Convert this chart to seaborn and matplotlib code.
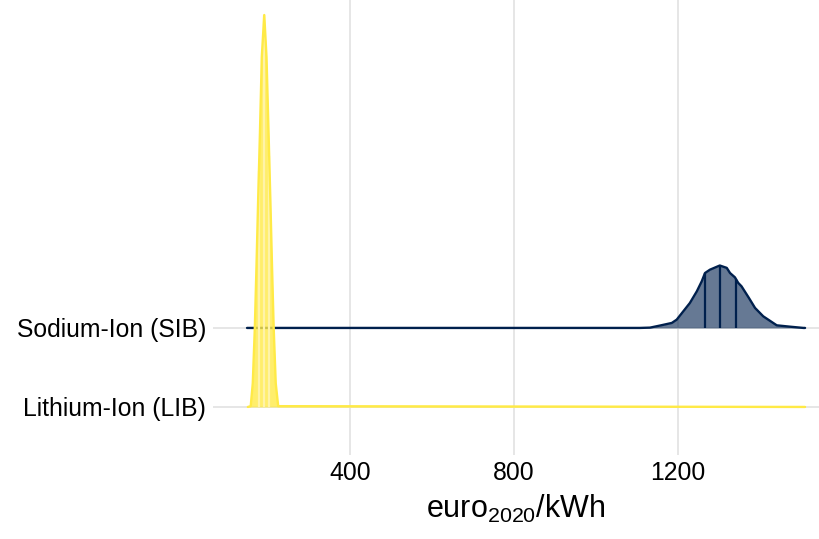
import matplotlib
matplotlib.use("Agg")
import matplotlib.pyplot as plt
import seaborn as sns
import numpy as np

# --- data (x in euro2020/kWh, h = ridge height in row units) ---
categories = ["Lithium-Ion (LIB)", "Sodium-Ion (SIB)"]

lib_x = [151, 158, 163, 168, 172, 176, 180.5, 185, 191, 196.5, 201.5, 206, 210, 214, 219, 225, 1510]
lib_h = [0, 0.01, 0.30, 1.0, 1.77, 2.6, 3.47, 4.43, 4.96, 4.43, 3.47, 2.6, 1.77, 1.0, 0.30, 0.01, 0]
lib_quartiles = [178, 191, 203]

sib_x = [149, 1107, 1132, 1156, 1185, 1197, 1213, 1229, 1246, 1258, 1266, 1278, 1302, 1319,
         1327, 1339, 1347, 1355, 1373, 1388, 1408, 1441, 1473, 1506, 1510]
sib_h = [0, 0, 0.004, 0.03, 0.063, 0.105, 0.21, 0.315, 0.463, 0.59, 0.695, 0.737, 0.79, 0.76,
         0.695, 0.64, 0.57, 0.527, 0.38, 0.253, 0.147, 0.033, 0.016, 0, 0]
sib_quartiles = [1266, 1302, 1341]

x_ticks = [400, 800, 1200]

NAVY = "#00204D"
YELLOW = "#FFEA46"

sns.set_theme(style="white")
plt.rcParams["font.family"] = ["Liberation Sans", "DejaVu Sans"]
plt.rcParams["mathtext.fontset"] = "custom"
plt.rcParams["mathtext.rm"] = "Liberation Sans"
plt.rcParams["mathtext.it"] = "Liberation Sans"

fig = plt.figure(figsize=(8.19, 5.39), dpi=100)
ax = fig.add_axes([213 / 819, 84 / 539, 606 / 819, 455 / 539])

ax.set_xlim(66, 1544)
ax.set_ylim(0.392, 6.15)

ax.set_xticks(x_ticks)
ax.set_xticklabels([str(t) for t in x_ticks])
ax.set_yticks([1, 2])
ax.set_yticklabels([categories[0], categories[1]])
ax.grid(True, color="#E6E6E6", linewidth=1.4)
ax.set_axisbelow(True)
for s in ax.spines.values():
    s.set_visible(False)
ax.tick_params(axis="both", length=0, labelsize=17.8, colors="black")
ax.tick_params(axis="y", pad=5)
ax.tick_params(axis="x", pad=4)


def ridge(x, h, base, q, line_col, fill_col, alpha, q_col, z):
    x = np.asarray(x, float)
    y = base + np.asarray(h, float)
    ax.fill_between(x, base, y, color=fill_col, alpha=alpha, linewidth=0, zorder=z)
    qh = np.interp(q, x, h)
    ax.vlines(q, base, base + qh, color=q_col, linewidth=1.6, zorder=z + 0.1)
    sns.lineplot(x=x, y=y, ax=ax, color=line_col, linewidth=1.7, sort=False,
                 estimator=None, zorder=z + 0.2)


ridge(sib_x, sib_h, 2, sib_quartiles, NAVY, NAVY, 0.6, NAVY, 3)
ridge(lib_x, lib_h, 1, lib_quartiles, YELLOW, YELLOW, 0.8, "#FFF3A8", 4)

ax.set_xlabel(r"euro$_{2020}$/kWh", fontsize=22, labelpad=6, color="black")
ax.set_ylabel("")

fig.savefig("out.png", dpi=100)
